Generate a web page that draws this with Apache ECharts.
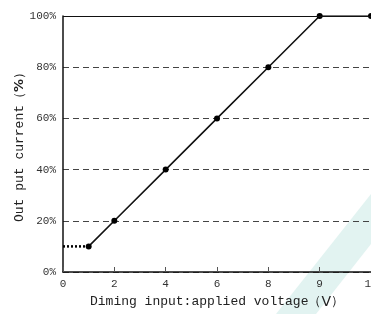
<!DOCTYPE html>
<html lang="en">
<head>
    <meta charset="UTF-8">
    <title>Dimming curve</title>
    <script src="https://cdn.jsdelivr.net/npm/echarts@6/dist/echarts.min.js"></script>
    <style>
        html, body { margin: 0; padding: 0; background: #fff; }
        #main { width: 371px; height: 314px; }
    </style>
</head>
<body>
<div id="main"></div>
<script type="text/javascript">
    // data
    var voltage = [1, 2, 4, 6, 8, 9, 10];
    var current = [10, 20, 40, 60, 80, 100, 100];
    var lowVoltage = [0, 1];      // dotted part below 1V
    var lowCurrent = [10, 10];
    var xTickLabels = ['0', '2', '4', '6', '8', '9', '10'];
    var xTickPos = [0, 2, 4, 6, 8, 10, 12];

    // x axis is stretched after 8V (8,9,10 spaced like 8,10,12)
    function xPos(v) {
        return v <= 8 ? v : 8 + (v - 8) * 2;
    }
    function pairs(xs, ys) {
        var out = [];
        for (var i = 0; i < xs.length; i++) {
            out.push([xPos(xs[i]), ys[i]]);
        }
        return out;
    }

    var font = 'Liberation Mono';
    var myChart = echarts.init(document.getElementById('main'));
    var option = {
        animation: false,
        backgroundColor: '#fff',
        graphic: [{
            type: 'polygon',
            z: -10,
            shape: { points: [[276, 314], [316, 314], [371, 244], [371, 194]] },
            style: { fill: '#e2f3f1' }
        }],
        grid: { left: 63, right: 0, top: 16, bottom: 42, outerBoundsMode: 'none', containLabel: false },
        xAxis: {
            type: 'value',
            min: 0,
            max: 12,
            interval: 2,
            name: 'Diming input:applied voltage（{b|V}）',
            nameLocation: 'middle',
            nameGap: 23,
            nameMoveOverlap: false,
            nameTextStyle: {
                fontFamily: font, fontSize: 13, color: '#222',
                rich: { b: { fontFamily: 'DejaVu Sans', fontSize: 14, color: '#222' } }
            },
            axisLine: { lineStyle: { color: '#111', width: 1.5 } },
            axisTick: { inside: true, length: 5, lineStyle: { color: '#555' } },
            axisLabel: {
                fontFamily: font, fontSize: 11, color: '#333', margin: 7,
                formatter: function (v) {
                    var i = xTickPos.indexOf(v);
                    return i >= 0 ? xTickLabels[i] : '';
                }
            },
            splitLine: { show: false }
        },
        yAxis: {
            type: 'value',
            min: 0,
            max: 100,
            interval: 20,
            name: 'Out put current（{b|%}）',
            nameLocation: 'middle',
            nameRotate: 90,
            nameGap: 37,
            nameMoveOverlap: false,
            nameTextStyle: {
                fontFamily: font, fontSize: 13, color: '#222',
                rich: { b: { fontFamily: 'DejaVu Sans', fontWeight: 'bold', fontSize: 13, color: '#222' } }
            },
            axisLine: { show: true, lineStyle: { color: '#111', width: 1.5 } },
            axisTick: { show: false },
            axisLabel: { fontFamily: font, fontSize: 11, color: '#333', margin: 7, formatter: '{value}%' },
            splitLine: { lineStyle: { color: '#444', type: [6, 4], width: 1 } }
        },
        series: [
            {
                type: 'line',
                data: pairs(voltage, current),
                symbol: 'circle',
                symbolSize: 6,
                itemStyle: { color: '#000' },
                lineStyle: { color: '#111', width: 1.6 },
                markLine: {
                    silent: true,
                    symbol: 'none',
                    label: { show: false },
                    lineStyle: { color: '#111', type: 'solid', width: 1.2 },
                    data: [{ yAxis: 100 }]
                },
                z: 3
            },
            {
                type: 'line',
                data: pairs(lowVoltage, lowCurrent),
                symbol: 'none',
                lineStyle: { color: '#000', width: 2.5, type: [2, 2] },
                z: 2
            }
        ]
    };
    myChart.setOption(option);
</script>
</body>
</html>
